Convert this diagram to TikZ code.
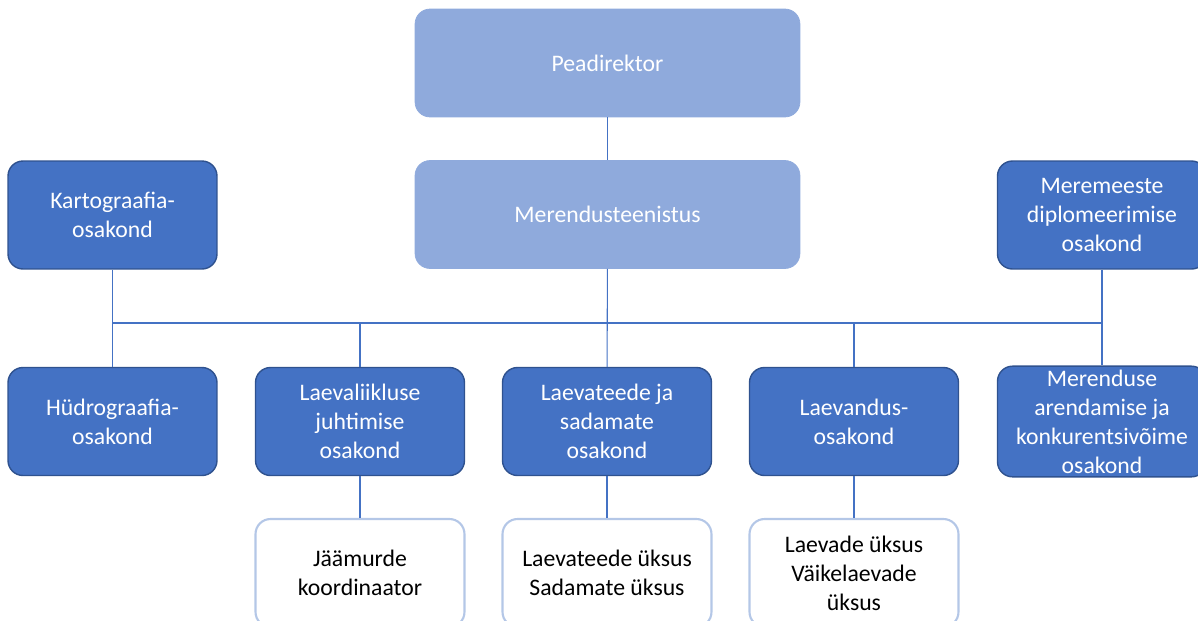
\documentclass[tikz,border=0pt]{standalone}
\usepackage{fontspec}
\setmainfont{Carlito}
\usepackage{tikz}
\definecolor{darkbox}{HTML}{4472C4}
\definecolor{darkedge}{HTML}{2F528F}
\definecolor{lightbox}{HTML}{8FAADC}
\definecolor{paleedge}{HTML}{B4C7E7}

\begin{document}
\begin{tikzpicture}[
  x=0.02cm, y=-0.02cm,
  every node/.style={rounded corners=0.3cm, align=center,
                     minimum width=4.18cm, minimum height=2.16cm,
                     inner sep=2pt,
                     font=\fontsize{13.5pt}{16.5pt}\selectfont},
  topbox/.style={fill=lightbox, draw=lightbox, text=white, minimum width=7.7cm},
  deptbox/.style={fill=darkbox, draw=darkedge, line width=0.8pt, text=white},
  unitbox/.style={fill=white, draw=paleedge, line width=1.2pt, text=black},
  link/.style={draw=darkbox, line width=0.6pt}
]
\clip (0,0) rectangle (1198,620);
\node[topbox]  (pd) at (607.5,63)  {Peadirektor};
\node[topbox]  (mt) at (607.5,214.5) {Merendusteenistus};
\node[deptbox] (ka) at (112.5,215) {Kartograafia-\\osakond};
\node[deptbox] (md) at (1102,215)  {Meremeeste\\diplomeerimise\\osakond};
\node[deptbox] (hu) at (112.5,421.5) {Hüdrograafia-\\osakond};
\node[deptbox] (lj) at (360,421.5)   {Laevaliikluse\\juhtimise\\osakond};
\node[deptbox] (ls) at (607,421.5)   {Laevateede ja\\sadamate\\osakond};
\node[deptbox] (lo) at (854,421.5)   {Laevandus-\\osakond};
\node[deptbox] (ma) at (1102,421.5)  {Merenduse\\arendamise ja\\konkurentsivõime\\osakond};
\node[unitbox] (jk) at (360,573)  {Jäämurde\\koordinaator};
\node[unitbox] (su) at (607,573)  {Laevateede üksus\\Sadamate üksus};
\node[unitbox] (lu) at (854,573)  {Laevade üksus\\Väikelaevade\\üksus};
\coordinate (bl) at (112.5,323);
\coordinate (br) at (1102,323);
\draw[link] (pd) -- (mt);
\draw[link] (mt) -- (ls);
\draw[link] (ka) -- (hu);
\draw[link] (md) -- (ma);
\draw[link] (bl) -- (br);
\draw[link] (lj.north) -- (lj.north |- bl);
\draw[link] (lo.north) -- (lo.north |- bl);
\draw[link] (lj) -- (jk);
\draw[link] (ls) -- (su);
\draw[link] (lo) -- (lu);
\end{tikzpicture}
\end{document}
